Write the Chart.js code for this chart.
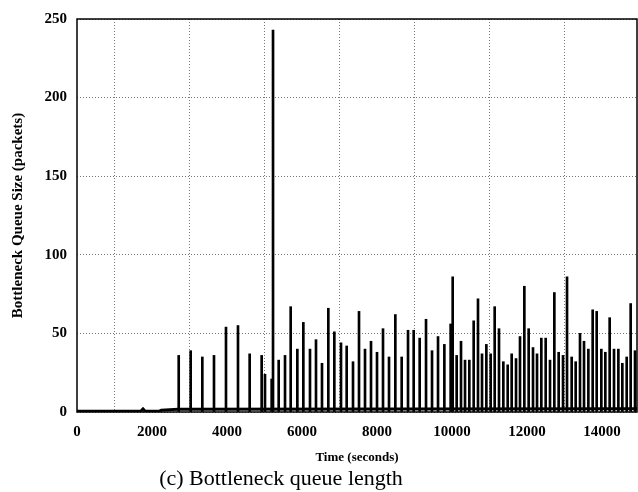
<!DOCTYPE html>
<html>
<head>
<meta charset="utf-8">
<script src="https://cdn.jsdelivr.net/npm/chart.js@4"></script>
<style>
  html, body { margin: 0; padding: 0; background: #fff; }
  #wrap { width: 638px; height: 492px; }
</style>
</head>
<body>
<div id="wrap"><canvas id="queueChart"></canvas></div>
<script>
// spikes of the bottleneck queue (time in s, size in packets)
const spikeTimes = [2712, 3031, 3342, 3653, 3973, 4293, 4604, 4924, 5013, 5191, 5227,
  5378, 5547, 5698, 5876, 6036, 6213, 6373, 6533, 6702, 6862, 7040, 7191, 7360, 7520,
  7680, 7840, 8000, 8160, 8320, 8489, 8658, 8827, 8978, 9138, 9307, 9467, 9627, 9796,
  9964, 10018, 10124, 10240, 10347, 10462, 10578, 10693, 10800, 10916, 11031, 11138,
  11253, 11369, 11485, 11591, 11707, 11813, 11929, 12044, 12160, 12267, 12382, 12498,
  12613, 12729, 12844, 12960, 13067, 13191, 13298, 13413, 13520, 13636, 13751, 13858,
  13982, 14089, 14204, 14320, 14436, 14542, 14658, 14764, 14880];
const spikeSizes = [36, 39, 35, 36, 54, 55, 37, 36, 24, 21, 243,
  33, 36, 67, 40, 57, 40, 46, 31, 66, 51, 44, 42, 32, 64,
  40, 45, 38, 53, 35, 62, 35, 52, 52, 47, 59, 39, 48, 43,
  56, 86, 36, 45, 33, 33, 58, 72, 37, 43, 37, 67,
  53, 32, 30, 37, 34, 48, 80, 53, 41, 37, 47, 47,
  33, 76, 38, 36, 86, 35, 32, 50, 45, 40, 65, 64,
  40, 38, 60, 40, 40, 31, 35, 69, 39];

// queue level between the spikes
const baseTimes = [0, 1700, 1760, 1820, 2200, 2250, 2700, 15000];
const baseSizes = [0.5, 0.5, 2, 0.5, 0.6, 1.2, 1.8, 2];

const xTicks = [0, 2000, 4000, 6000, 8000, 10000, 12000, 14000];
const yTicks = [0, 50, 100, 150, 200, 250];

const captionText = "(c) Bottleneck queue length";
const serif = "'Liberation Serif', 'Times New Roman', serif";

// gnuplot style box round the plot, and the figure caption under it
const boxPlugin = {
  id: "box",
  afterDraw(chart) {
    const a = chart.chartArea;
    const ctx = chart.ctx;
    ctx.save();
    ctx.strokeStyle = "#000";
    ctx.lineWidth = 1.5;
    ctx.strokeRect(a.left, a.top, a.right - a.left, a.bottom - a.top);
    ctx.fillStyle = "#000";
    ctx.font = "22px " + serif;
    ctx.textAlign = "center";
    ctx.textBaseline = "middle";
    ctx.fillText(captionText, 281, 479);
    ctx.restore();
  }
};

new Chart(document.getElementById("queueChart"), {
  type: "bar",
  data: {
    datasets: [
      {
        type: "line",
        data: baseTimes.map((t, i) => ({ x: t, y: baseSizes[i] })),
        borderColor: "#000",
        borderWidth: 3,
        pointRadius: 0,
        tension: 0,
        order: 0
      },
      {
        type: "bar",
        data: spikeTimes.map((t, i) => ({ x: t, y: spikeSizes[i] })),
        backgroundColor: "#000",
        barThickness: 2,
        order: 1
      }
    ]
  },
  options: {
    responsive: true,
    maintainAspectRatio: false,
    animation: false,
    layout: { padding: { left: 0, right: 1, top: 18, bottom: 27 } },
    plugins: {
      legend: { display: false },
      tooltip: { enabled: false }
    },
    scales: {
      x: {
        type: "linear",
        min: 0,
        max: 14933,
        offset: false,
        afterBuildTicks: (s) => { s.ticks = xTicks.map((v) => ({ value: v })); },
        afterFit: (s) => { s.height = 53; },
        grid: { color: "#777", drawTicks: false },
        border: { display: false, dash: [1, 2] },
        ticks: {
          color: "#000",
          padding: 11,
          font: { family: serif, size: 15, weight: "bold" },
          callback: (v) => String(v)
        },
        title: {
          display: true,
          text: "Time (seconds)",
          color: "#000",
          font: { family: serif, size: 13, weight: "bold", lineHeight: 1.2 },
          padding: { top: 0, bottom: 0 }
        }
      },
      y: {
        min: 0,
        max: 250,
        afterBuildTicks: (s) => { s.ticks = yTicks.map((v) => ({ value: v })); },
        afterFit: (s) => { s.width = 77; },
        grid: { color: "#777", drawTicks: false },
        border: { display: false, dash: [1, 2] },
        ticks: {
          color: "#000",
          padding: 10,
          font: { family: serif, size: 15, weight: "bold" },
          callback: (v) => String(v)
        },
        title: {
          display: true,
          text: "Bottleneck Queue Size (packets)",
          color: "#000",
          font: { family: serif, size: 15, weight: "bold", lineHeight: 1.2 },
          padding: { top: 9, bottom: 0 }
        }
      }
    }
  },
  plugins: [boxPlugin]
});
</script>
</body>
</html>
